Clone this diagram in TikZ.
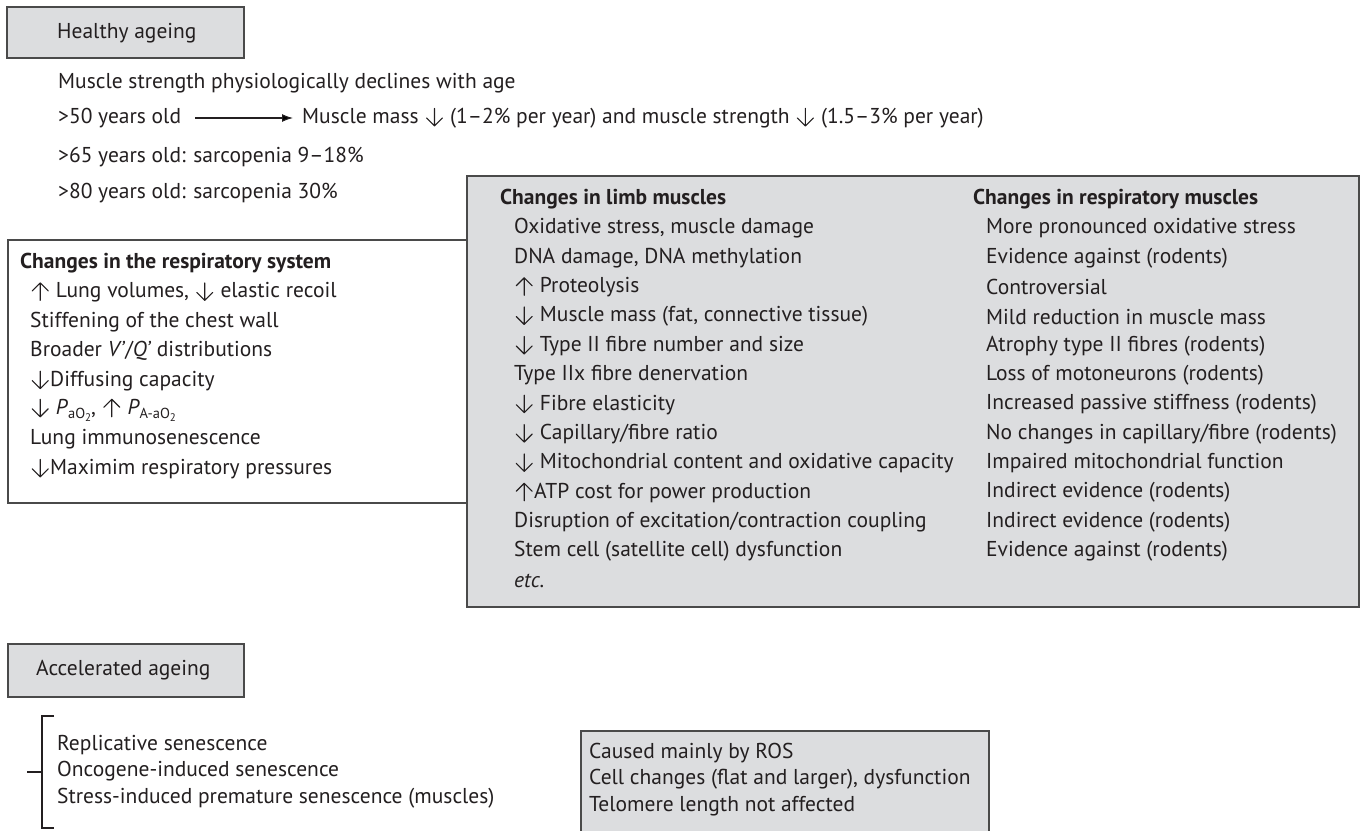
\documentclass[tikz,border=0pt]{standalone}
\usepackage{fontspec}
\usetikzlibrary{arrows.meta}
\setmainfont{PT Sans}
\definecolor{txt}{HTML}{231F20}
\definecolor{boxgray}{HTML}{DCDDDF}
\definecolor{edge}{HTML}{4A4A4A}
\newcommand{\dn}{\begin{tikzpicture}[baseline=0pt,x=1pt,y=1pt]\path (0,0) -- (20,0);\draw[txt,line width=1.1pt,line cap=round,line join=round] (10,15) -- (10,-2.5) (2,5.5) -- (10,-2.5) -- (18,5.5);\end{tikzpicture}}
\newcommand{\up}{\begin{tikzpicture}[baseline=0pt,x=1pt,y=1pt]\path (0,0) -- (20,0);\draw[txt,line width=1.1pt,line cap=round,line join=round] (10,-2.5) -- (10,15) (2,7) -- (10,15) -- (18,7);\end{tikzpicture}}
\newcommand{\subs}[1]{\raisebox{-4.5pt}{\fontsize{14.5}{14.5}\selectfont #1}}
\newcommand{\subsub}[1]{\raisebox{-2.5pt}{\fontsize{11}{11}\selectfont #1}}
\begin{document}
\begin{tikzpicture}[x=1pt,y=-1pt,
  every node/.style={text=txt,font=\fontsize{21.5}{24}\selectfont},
  txt/.style={anchor=west,inner sep=0pt},
  head/.style={anchor=west,inner sep=0pt,font=\fontsize{21.5}{24}\selectfont\bfseries},
  graybox/.style={draw=edge,line width=1.3pt,fill=boxgray},
  whitebox/.style={draw=edge,line width=1.3pt,fill=white},
  conn/.style={draw=txt,line width=1.1pt}]
\useasboundingbox (0,0) rectangle (1364,830);
\fill[white] (0,0) rectangle (1364,830);

% Healthy ageing
\draw[graybox] (7,7) rectangle (244,58);
\node[txt] (ha) at (57,33) {Healthy ageing};
\node[txt] (l1) at (58,83) {Muscle strength physiologically declines with age};
\node[txt] (l2) at (58,118) {>50 years old};
\node[txt] (l2b) at (302,118) {Muscle mass \dn\ (1–2\% per year) and muscle strength \dn\ (1.5–3\% per year)};
\draw[conn,-{Latex[length=11pt,width=8pt]},shorten <=14pt,shorten >=9pt] (l2.east) -- (l2b.west);
\node[txt] (l3) at (58,157) {>65 years old: sarcopenia 9–18\%};
\node[txt] (l4) at (58,193) {>80 years old: sarcopenia 30\%};

% Respiratory system box
\draw[whitebox] (8,240) rectangle (467,503);
\node[head] (rs) at (20,263) {Changes in the respiratory system};
\node[txt] at (30,292.4) {\up\ Lung volumes, \dn\ elastic recoil};
\node[txt] at (30,321.8) {Stiffening of the chest wall};
\node[txt] at (30,351.2) {Broader \textit{V'}/\textit{Q'} distributions};
\node[txt] at (30,380.6) {\dn Diffusing capacity};
\node[txt] at (30,410) {\dn\ \textit{P}\subs{aO\subsub{2}}, \up\ \textit{P}\subs{A-aO\subsub{2}}};
\node[txt] at (30,439.4) {Lung immunosenescence};
\node[txt] at (30,468.8) {\dn Maximim respiratory pressures};

% Limb / respiratory muscles box
\draw[graybox] (467,176) rectangle (1359,607);
\node[head] (lm) at (500,199) {Changes in limb muscles};
\node[head] (rm) at (973,199) {Changes in respiratory muscles};
\foreach \t [count=\i] in {
  {Oxidative stress, muscle damage},
  {DNA damage, DNA methylation},
  {\up\ Proteolysis},
  {\dn\ Muscle mass (fat, connective tissue)},
  {\dn\ Type II fibre number and size},
  {Type IIx fibre denervation},
  {\dn\ Fibre elasticity},
  {\dn\ Capillary/fibre ratio},
  {\dn\ Mitochondrial content and oxidative capacity},
  {\up ATP cost for power production},
  {Disruption of excitation/contraction coupling},
  {Stem cell (satellite cell) dysfunction},
  {\textit{etc.}}}
  \node[txt] (lm\i) at (514,{228.5+29.35*(\i-1)}) {\t};
\foreach \t [count=\i] in {
  {More pronounced oxidative stress},
  {Evidence against (rodents)},
  {Controversial},
  {Mild reduction in muscle mass},
  {Atrophy type II fibres (rodents)},
  {Loss of motoneurons (rodents)},
  {Increased passive stiffness (rodents)},
  {No changes in capillary/fibre (rodents)},
  {Impaired mitochondrial function},
  {Indirect evidence (rodents)},
  {Indirect evidence (rodents)},
  {Evidence against (rodents)}}
  \node[txt] (rm\i) at (986,{228.5+29.35*(\i-1)}) {\t};

% Accelerated ageing
\draw[graybox] (8,644) rectangle (244,697);
\node[txt] (aa) at (36,670) {Accelerated ageing};
\node[txt] (s1) at (57,745) {Replicative senescence};
\node[txt] (s2) at (57,771.5) {Oncogene-induced senescence};
\node[txt] (s3) at (57,798) {Stress-induced premature senescence (muscles)};
\coordinate (bt) at (42,716);
\coordinate (bb) at (42,828);
\coordinate (bm) at (42,772);
\draw[conn] (54,716) -- (bt) -- (bb) -- (54,828);
\draw[conn] (27,772) -- (bm);

% ROS box
\draw[graybox] (581,731) rectangle (989,845);
\node[txt] (r1) at (589,753) {Caused mainly by ROS};
\node[txt] (r2) at (589,779.5) {Cell changes (flat and larger), dysfunction};
\node[txt] (r3) at (589,806) {Telomere length not affected};
\end{tikzpicture}
\end{document}
